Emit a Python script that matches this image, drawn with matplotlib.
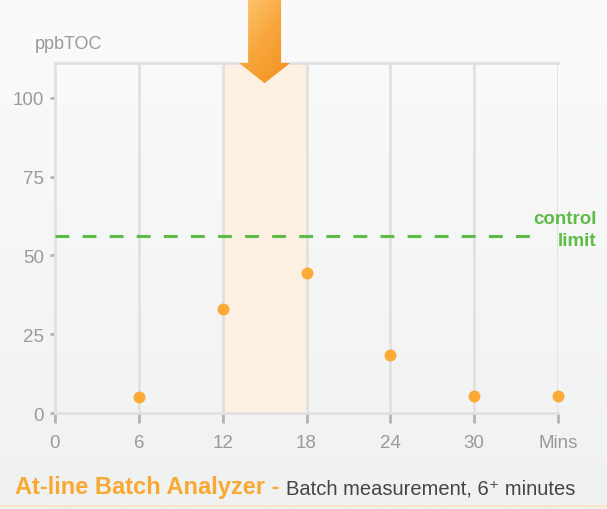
import numpy as np
import matplotlib
matplotlib.use("Agg")
import matplotlib.pyplot as plt
from matplotlib.patches import Polygon
from matplotlib.lines import Line2D
from matplotlib.colors import LinearSegmentedColormap

# ---- data ------------------------------------------------------------------
MINUTES = [6, 12, 18, 24, 30, 36]
PPB_TOC = [5, 33, 44.5, 18.5, 5.5, 5.5]
X_TICKS = [0, 6, 12, 18, 24, 30, 36]
X_LABELS = ["0", "6", "12", "18", "24", "30", "Mins"]
Y_TICKS = [0, 25, 50, 75, 100]
CONTROL_LIMIT = 56.3
WINDOW = (12, 18)          # highlighted measurement window (minutes)

# ---- style -----------------------------------------------------------------
FONT = ["Liberation Sans", "DejaVu Sans"]
ORANGE = "#FBAA35"
GREEN = "#5DBB46"
GRID = "#E1E1E1"
TICK = "#B4B4B8"
LABEL = "#9A9A9A"
BAND = "#FBF0E2"
YMAX = 111

plt.rcParams["font.family"] = FONT
plt.rcParams["lines.scale_dashes"] = False

fig = plt.figure(figsize=(6.07, 5.10), dpi=100)

# soft vertical background gradient
bg = fig.add_axes([0, 0, 1, 1], zorder=-1)
bg_cmap = LinearSegmentedColormap.from_list("bg", ["#FBFBFB", "#F0F1F1"])
bg.imshow(np.linspace(0, 1, 256)[:, None], cmap=bg_cmap, aspect="auto",
          extent=(0, 1, 0, 1))
bg.axis("off")
fig.add_artist(Line2D([0, 1], [0.005, 0.005], color="#F5E3C6", lw=1.5))

pos = [0.0906, 0.188, 0.8287, 0.6865]
ax = fig.add_axes(pos)
ax.set_facecolor("none")

ax.axvspan(*WINDOW, color=BAND, zorder=1, lw=0)
for x in X_TICKS[1:]:
    ax.axvline(x, color=GRID, lw=2, zorder=2)

ax.plot([0, 34.4], [CONTROL_LIMIT] * 2, color=GREEN, lw=2.2,
        dashes=(10, 9.5), zorder=3)
ax.plot(MINUTES, PPB_TOC, "o", color=ORANGE, ms=8.6, mec="none",
        zorder=5, clip_on=False)

ax.set_xlim(0, 36)
ax.set_ylim(0, YMAX)
ax.set_xticks(X_TICKS)
ax.set_xticklabels(X_LABELS)
ax.set_yticks(Y_TICKS)
for s in ax.spines.values():
    s.set_color(GRID)
    s.set_linewidth(2)
ax.spines["right"].set_visible(False)
ax.tick_params(axis="x", length=7, width=2, color=TICK, labelcolor=LABEL,
               labelsize=13.5, pad=8)
ax.tick_params(axis="y", length=3.5, width=2, color=TICK, labelcolor=LABEL,
               labelsize=13.5, pad=4.5)

# control limit label
ax.text(1.077, CONTROL_LIMIT + 2.0, "control\nlimit", transform=ax.get_yaxis_transform(),
        ha="right", va="center", ma="right", color=GREEN, fontsize=13.5,
        fontweight="bold", linespacing=1.4)

# downward arrow pointing into the window, drawn on an overlay that reaches the
# top of the figure so the shaft is not clipped
top_frac = 1 - pos[1]
ax2 = fig.add_axes([pos[0], pos[1], pos[2], top_frac], zorder=3)
fig_top = YMAX * top_frac / pos[3]
ax2.axis("off")
cx = sum(WINDOW) / 2
arrow = Polygon([(cx - 1.18, fig_top + 2), (cx + 1.18, fig_top + 2),
                 (cx + 1.18, YMAX), (cx + 1.83, YMAX), (cx, YMAX - 6.4),
                 (cx - 1.83, YMAX), (cx - 1.18, YMAX)],
                closed=True, fc="none", ec="none")
ax2.add_patch(arrow)
n = 64
rr, cc = np.mgrid[0:n, 0:n] / (n - 1)
arr_cmap = LinearSegmentedColormap.from_list("arr", ["#FFCB78", "#F8A63C", "#F0901C"])
im = ax2.imshow((rr * 0.8 + cc * 0.6) / 1.4, cmap=arr_cmap, aspect="auto",
                origin="upper", extent=(cx - 1.9, cx + 1.9, YMAX - 7, fig_top + 2),
                interpolation="bilinear")
im.set_clip_path(arrow)
ax2.set_xlim(0, 36)
ax2.set_ylim(0, fig_top)

fig.text(0.058, 0.912, "ppbTOC", color=LABEL, fontsize=13, va="center")

# footer: bold orange name followed by a plain description on the same baseline
base_y = 0.031
t1 = fig.text(0.024, base_y, "At-line Batch Analyzer -", color="#F9A832",
              fontsize=17, fontweight="bold", va="baseline")
fig.canvas.draw()
x_end = t1.get_window_extent().x1 / fig.bbox.width
fig.text(x_end + 0.011, base_y, "Batch measurement, 6\u207a minutes",
         va="baseline", ha="left", color="#454545", fontsize=14.5)

fig.savefig("out.png", dpi=100)
